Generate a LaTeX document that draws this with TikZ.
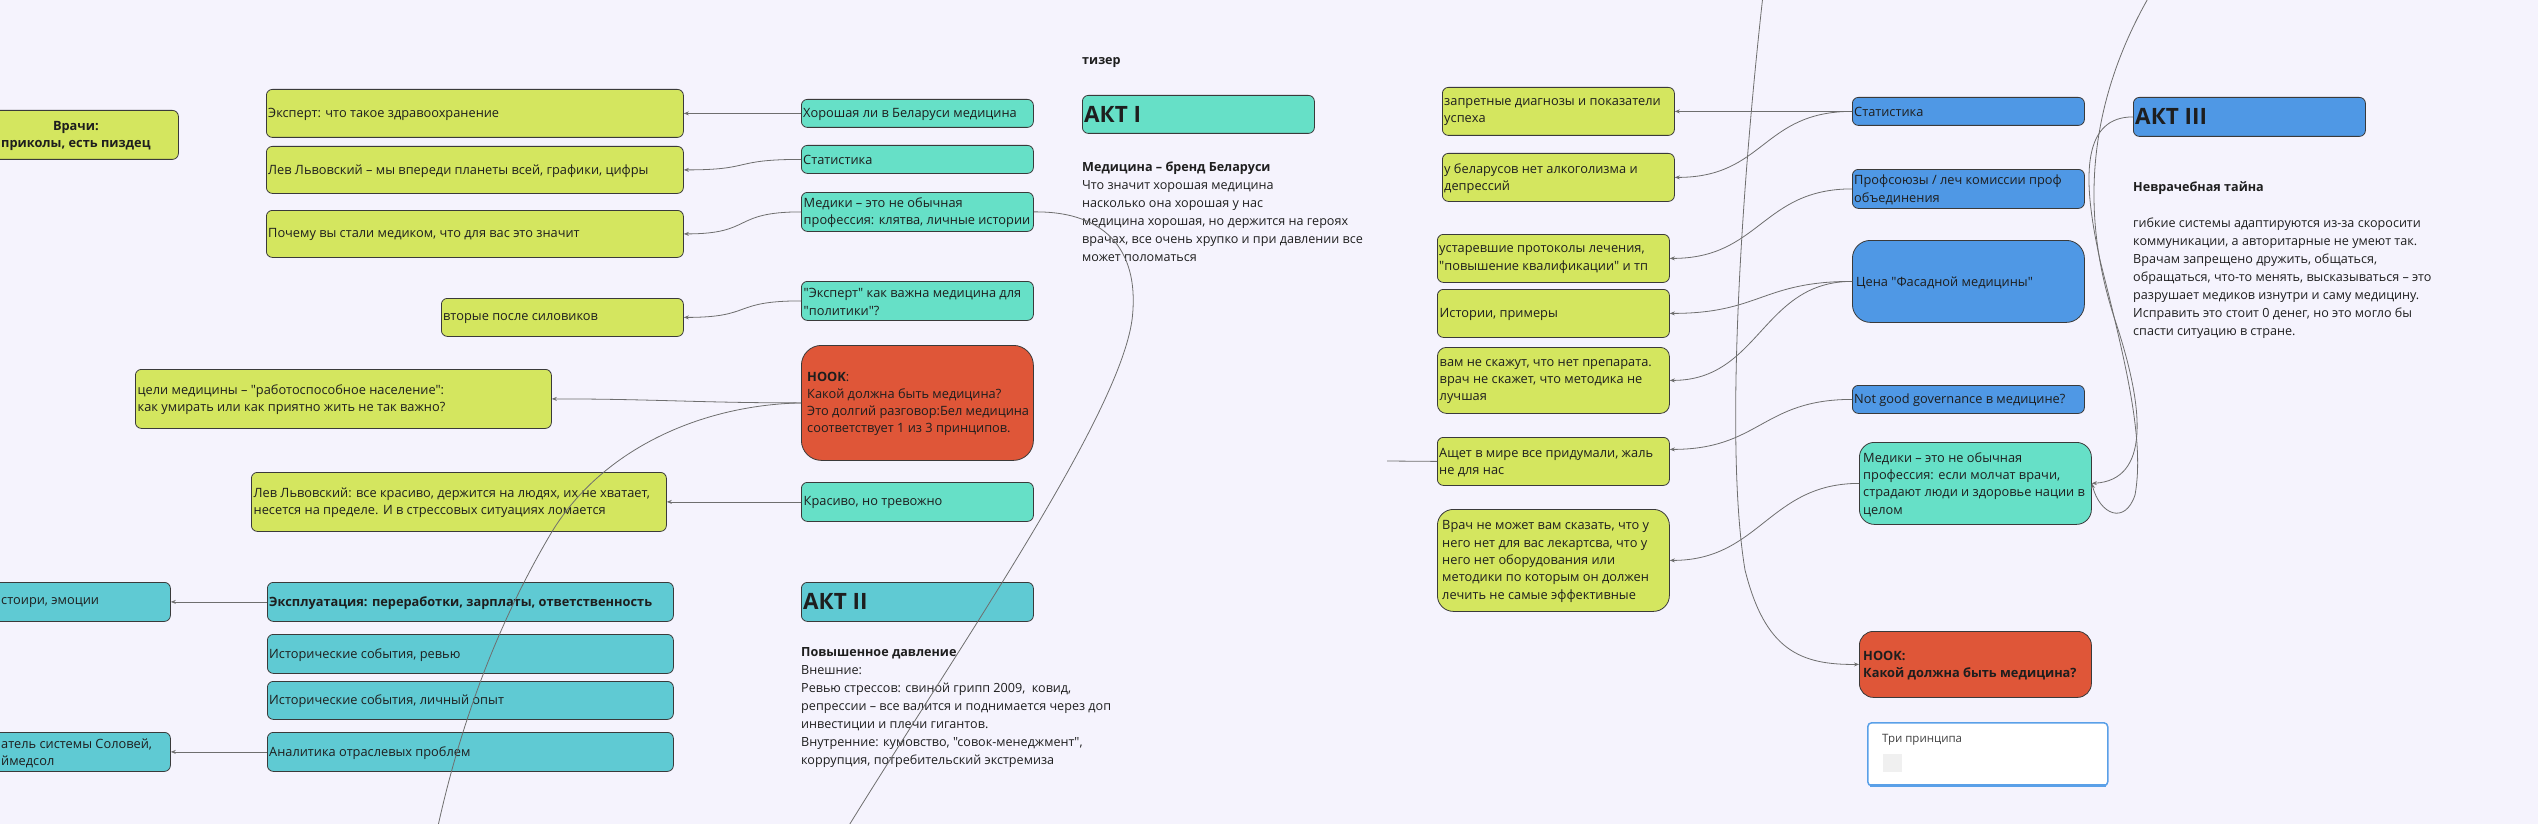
\documentclass[tikz,border=0pt]{standalone}
\usepackage{fontspec}
\setmainfont{Open Sans}[Ligatures=TeXOff]
\usetikzlibrary{arrows.meta}
\definecolor{bgc}{HTML}{F5F3FD}
\definecolor{limec}{HTML}{D4E65F}
\definecolor{tealc}{HTML}{66E0C7}
\definecolor{cyanc}{HTML}{5FCAD3}
\definecolor{bluec}{HTML}{4F98E5}
\definecolor{redc}{HTML}{DF5638}
\definecolor{linec}{HTML}{6E6E6E}
\definecolor{borderc}{HTML}{3A3A3A}
\definecolor{textc}{HTML}{1E1E1E}
\definecolor{cardblue}{HTML}{5AA0E8}
\tikzset{
 bxs/.style={draw=borderc, line width=0.8pt, rounded corners=6pt, inner sep=0pt, anchor=north west},
 limebox/.style={bxs, fill=limec},
 tealbox/.style={bxs, fill=tealc},
 cyanbox/.style={bxs, fill=cyanc},
 bluebox/.style={bxs, fill=bluec},
 redbox/.style={bxs, fill=redc},
 txt/.style={inner sep=0pt, align=left, text=textc, font=\fontsize{12.8}{17.3}\selectfont},
 blk/.style={inner sep=0pt, align=left, text=textc, font=\fontsize{12.6}{18}\selectfont},
 ttl/.style={inner sep=0pt, text=textc, font=\fontsize{22.5}{26}\selectfont\bfseries},
 conn/.style={draw=linec, line width=0.8pt},
 arr/.style={conn, -{Stealth[length=5pt,width=4pt]}},
}
\newcommand\bx[8]{%
 \node[#2, minimum width={(#5-#3)*1pt}, minimum height={(#6-#4)*1pt}] (#1) at (#3,#4) {};
 \node[txt, anchor=west] (#1-t) at ([xshift=#7pt,yshift=-1pt]#1.west) {#8};}
\begin{document}
\begin{tikzpicture}[x=1pt,y=-1pt]
\useasboundingbox (0,0) rectangle (2538,824);
\fill[bgc] (0,0) rectangle (2538,824);
\clip (0,0) rectangle (2538,824);

% ---------- left lime boxes
\node[limebox, minimum width=218pt, minimum height=49pt] (vrachi) at (-40,110) {};
\node[txt, align=center, anchor=west, font=\fontsize{12.8}{17.3}\selectfont\bfseries] (vrachi-t) at (1,136) {Врачи:\\приколы, есть пиздец};
\bx{e1}{limebox}{266}{89}{683}{137}{2}{Эксперт: что такое здравоохранение}
\bx{e2}{limebox}{266}{146}{683}{193}{2}{Лев Львовский – мы впереди планеты всей, графики, цифры}
\bx{e3}{limebox}{266}{210}{683}{257}{2}{Почему вы стали медиком, что для вас это значит}
\bx{e4}{limebox}{441}{298}{683}{336}{2}{вторые после силовиков}
\bx{e5}{limebox}{135}{369}{551}{428}{2.5}{цели медицины – "работоспособное население":\\как умирать или как приятно жить не так важно?}
\bx{e6}{limebox}{251}{472}{666}{531}{2.5}{Лев Львовский: все красиво, держится на людях, их не хватает,\\несется на пределе. И в стрессовых ситуациях ломается}

% ---------- left teal boxes
\bx{t1}{tealbox}{801}{99}{1033}{127}{2}{Хорошая ли в Беларуси медицина}
\bx{t2}{tealbox}{801}{145}{1033}{173}{2}{Статистика}
\bx{t3}{tealbox}{801}{192}{1033}{231}{2.5}{Медики – это не обычная\\профессия: клятва, личные истории}
\bx{t4}{tealbox}{801}{281}{1033}{320}{2.5}{"Эксперт" как важна медицина для\\"политики"?}
\bx{hook1}{redbox, rounded corners=20pt}{801}{345}{1033}{460}{6}{{\bfseries HOOK}:\\Какой должна быть медицина?\\Это долгий разговор:Бел медицина\\соответствует 1 из 3 принципов.}
\bx{t5}{tealbox}{801}{482}{1033}{521}{2.5}{Красиво, но тревожно}
\node[tealbox, minimum width=232pt, minimum height=38pt] (akt1) at (1082,95) {};
\node[ttl, anchor=west] (akt1-t) at ([xshift=2pt]akt1.west) {АКТ I};
\node[blk, anchor=west, font=\fontsize{12.6}{18}\selectfont\bfseries] (tizer) at (1082,63) {тизер};
\node[blk, anchor=north west] (blk1) at (1082,161.5) {\textbf{Медицина – бренд Беларуси}\\Что значит хорошая медицина\\насколько она хорошая у нас\\медицина хорошая, но держится на героях\\врачах, все очень хрупко и при давлении все\\может поломаться};

% ---------- cyan boxes (act II)
\node[cyanbox, minimum width=210pt, minimum height=39pt] (c0) at (-40,582) {};
\node[txt, anchor=west] (c0-t) at (1,603) {стоири, эмоции};
\node[cyanbox, minimum width=210pt, minimum height=39pt] (c1) at (-40,732) {};
\node[txt, anchor=west] (c1-t) at (1,753) {атель системы Соловей,\\ймедсол};
\bx{c2}{cyanbox}{267}{582}{673}{621}{2}{\textbf{Эксплуатация: переработки, зарплаты, ответственность}}
\bx{c3}{cyanbox}{267}{634}{673}{673}{2}{Исторические события, ревью}
\bx{c4}{cyanbox}{267}{681}{673}{719}{2}{Исторические события, личный опыт}
\bx{c5}{cyanbox}{267}{732}{673}{771}{2}{Аналитика отраслевых проблем}
\node[cyanbox, minimum width=232pt, minimum height=39pt] (akt2) at (801,582) {};
\node[ttl, anchor=west] (akt2-t) at ([xshift=2pt]akt2.west) {АКТ II};
\node[blk, anchor=north west] (blk2) at (801,647.5) {\textbf{Повышенное давление}\\Внешние:\\Ревью стрессов: свиной грипп 2009,\ \ ковид,\\репрессии – все валится и поднимается через доп\\инвестиции и плечи гигантов.\\Внутренние: кумовство, "совок-менеджмент",\\коррупция, потребительский экстремиза};

% ---------- right lime boxes
\bx{r1}{limebox}{1442}{87}{1674}{135}{2}{запретные диагнозы и показатели\\успеха}
\bx{r2}{limebox}{1442}{153}{1674}{201}{2}{у беларусов нет алкоголизма и\\депрессий}
\bx{r3}{limebox}{1437}{234}{1669}{282}{2}{устаревшие протоколы лечения,\\"повышение квалификации" и тп}
\bx{r4}{limebox}{1437}{289}{1669}{337}{2.5}{Истории, примеры}
\bx{r5}{limebox, rounded corners=9pt}{1437}{347}{1669}{413}{2.5}{вам не скажут, что нет препарата.\\врач не скажет, что методика не\\лучшая}
\bx{r6}{limebox}{1437}{437}{1669}{485}{2}{Ащет в мире все придумали, жаль\\не для нас}
\bx{r7}{limebox, rounded corners=16pt}{1437}{509}{1669}{611}{5}{Врач не может вам сказать, что у\\него нет для вас лекартсва, что у\\него нет оборудования или\\методики по которым он должен\\лечить не самые эффективные}

% ---------- blue boxes
\bx{b1}{bluebox}{1852}{97}{2084}{125}{2}{Статистика}
\bx{b2}{bluebox}{1852}{169}{2084}{208}{2}{Профсоюзы / леч комиссии проф\\объединения}
\bx{b3}{bluebox, rounded corners=18pt}{1852}{240}{2084}{322}{4}{Цена "Фасадной медицины"}
\bx{b4}{bluebox}{1852}{385}{2084}{413}{2}{Not good governance в медицине?}
\node[bluebox, minimum width=232pt, minimum height=39pt] (akt3) at (2133,97) {};
\node[ttl, anchor=west] (akt3-t) at ([xshift=2pt]akt3.west) {АКТ III};
\node[blk, anchor=north west] (blk3) at (2133,181.5) {\textbf{Невра­чебная тайна}\\[18pt]гибкие системы адаптируются из-за скоросити\\коммуникации, а авторитарные не умеют так.\\Врачам запрещено дружить, общаться,\\обращаться, что-то менять, высказываться – это\\разрушает медиков изнутри и саму медицину.\\Исправить это стоит 0 денег, но это могло бы\\спасти ситуацию в стране.};

\bx{m2}{tealbox, rounded corners=15pt}{1859}{442}{2091}{524}{4}{Медики – это не обычная\\профессия: если молчат врачи,\\страдают люди и здоровье нации в\\целом}
\bx{hook2}{redbox, rounded corners=14pt}{1859}{631}{2091}{697}{4}{\textbf{HOOK:}\\\textbf{Какой должна быть медицина?}}

% card
\node[draw=cardblue, line width=1.5pt, fill=white, rounded corners=4pt, anchor=north west, minimum width=240pt, minimum height=63pt, inner sep=0pt] (card) at (1867,722) {};
\draw[cardblue, line width=3pt] ([xshift=3pt,yshift=1.2pt]card.south west) -- ([xshift=-3pt,yshift=1.2pt]card.south east);
\node[inner sep=0pt, anchor=west, text=black!75, font=\fontsize{11.5}{14}\selectfont] (card-t) at (1882,740) {Три принципа};
\fill[black!6] (1883,754) rectangle (1902,772);

% ---------- connectors left
\coordinate (bot1) at (435,840);
\coordinate (bot2) at (840,840);
\coordinate (free1) at (1387,461);
\coordinate (top1) at (1763,-5);
\coordinate (top2) at (2150,-5);
\draw[arr] (t1.west) -- (e1.east);
\draw[arr] (t2.west) .. controls +(-70,0) and +(70,0) .. (e2.east);
\draw[arr] (t3.west) .. controls +(-70,0) and +(70,0) .. (e3.east);
\draw[arr] (t4.west) .. controls +(-70,0) and +(70,0) .. (e4.east);
\draw[arr] (hook1.west) .. controls +(-100,0) and +(100,0) .. (e5.east);
\draw[conn] (hook1.west) .. controls (700,405) and (600,450) .. (550,535) .. controls (500,620) and (460,720) .. (bot1);
\draw[arr] (t5.west) -- (e6.east);
\draw[arr] (c2.west) -- (c0.east);
\draw[arr] (c5.west) -- (c1.east);
\draw[conn] (t3.east) .. controls (1110,211) and (1140,255) .. (1132,320) .. controls (1118,420) and (950,660) .. (bot2);

% ---------- connectors right
\draw[arr] (b1.west) -- (r1.east);
\draw[arr] (b1.west) .. controls +(-90,0) and +(90,0) .. (r2.east);
\draw[arr] (b2.west) .. controls +(-90,0) and +(90,0) .. (r3.east);
\draw[arr] (b3.west) .. controls +(-90,0) and +(90,0) .. (r4.east);
\draw[arr] (b3.west) .. controls +(-90,0) and +(90,0) .. (r5.east);
\draw[arr] (b4.west) .. controls +(-90,0) and +(90,0) .. ([yshift=12pt]r6.east);
\draw[arr] (m2.west) .. controls +(-90,0) and +(90,0) .. (r7.east);
\draw[conn] (free1) -- (r6.west);
\draw[arr] (top1) .. controls (1740,200) and (1725,450) .. (1745,570) .. controls (1765,650) and (1800,665) .. (hook2.west);
\draw[arr] (top2) .. controls (2095,90) and (2075,200) .. (2115,320) .. controls (2145,410) and (2150,480) .. (m2.east);
\draw[arr] (akt3.west) .. controls (2085,117) and (2080,170) .. (2100,260) .. controls (2125,360) and (2145,440) .. (2135,495) .. controls (2125,525) and (2100,515) .. (m2.east);
\end{tikzpicture}
\end{document}
